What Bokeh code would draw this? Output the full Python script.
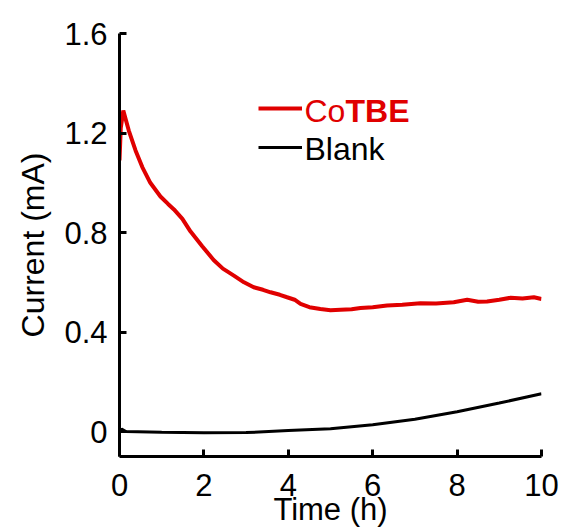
from bokeh.plotting import figure
from bokeh.models import Range1d, FixedTicker, Legend, LegendItem, Label, Title
from bokeh.embed import file_html
from bokeh.resources import INLINE

# ---- data ----
cotbe_t = [0.0, 0.03, 0.09, 0.22, 0.38, 0.54, 0.73, 0.97, 1.15, 1.29, 1.49, 1.68,
           1.96, 2.23, 2.45, 2.71, 2.95, 3.18, 3.4, 3.58, 3.8, 3.97, 4.15, 4.29,
           4.5, 4.76, 5.0, 5.24, 5.5, 5.71, 6.0, 6.34, 6.7, 7.13, 7.5, 7.92,
           8.24, 8.5, 8.71, 9.0, 9.27, 9.55, 9.82, 10.0]
cotbe_i = [1.09, 1.22, 1.29, 1.21, 1.13, 1.063, 1.0, 0.945, 0.915, 0.893, 0.855, 0.805,
           0.745, 0.69, 0.655, 0.627, 0.60, 0.58, 0.57, 0.56, 0.55, 0.54, 0.53, 0.513,
           0.50, 0.493, 0.488, 0.49, 0.492, 0.497, 0.50, 0.507, 0.51, 0.516, 0.515, 0.52,
           0.53, 0.522, 0.523, 0.53, 0.538, 0.535, 0.54, 0.533]

blank_t = [0.0, 0.05, 0.15, 1, 2, 3, 4, 5, 6, 7, 8, 9, 10]
blank_i = [0.0, 0.01, 0.0, -0.003, -0.005, -0.004, 0.004, 0.012, 0.028, 0.05, 0.08, 0.115, 0.152]

x_ticks = [0, 2, 4, 6, 8, 10]
y_ticks = [0, 0.4, 0.8, 1.2, 1.6]
y_tick_labels = ["0", "0.4", "0.8", "1.2", "1.6"]
x_title = "Time (h)"
y_title = "Current (mA)"

RED = "#e00000"
FONT = "Liberation Sans"

p = figure(width=561, height=530, output_backend="svg", toolbar_location=None,
           x_range=Range1d(0, 10), y_range=Range1d(-0.1, 1.6),
           min_border_left=119, min_border_right=20, min_border_top=33, min_border_bottom=74)
p.outline_line_color = None
p.grid.visible = False
p.background_fill_color = "white"

r_red = p.line(cotbe_t, cotbe_i, line_color=RED, line_width=4)
r_blk = p.line(blank_t, blank_i, line_color="black", line_width=3)

for ax in (p.xaxis[0], p.yaxis[0]):
    ax.axis_line_width = 3
    ax.axis_line_color = "black"
    ax.major_tick_line_width = 3
    ax.major_tick_in = 7
    ax.major_tick_out = 0
    ax.minor_tick_line_color = None
    ax.major_label_text_font = FONT
    ax.major_label_text_font_size = "31px"
    ax.major_label_text_color = "black"
    ax.axis_label_text_font = FONT
    ax.axis_label_text_font_size = "31px"
    ax.axis_label_text_font_style = "normal"
    ax.axis_label_text_color = "black"

p.xaxis[0].ticker = FixedTicker(ticks=x_ticks)
p.yaxis[0].ticker = FixedTicker(ticks=y_ticks)
p.yaxis[0].major_label_overrides = {t: s for t, s in zip(y_ticks, y_tick_labels)}
p.xaxis[0].major_label_overrides = {t: str(t) for t in x_ticks}
p.xaxis[0].axis_label = x_title
p.xaxis[0].major_label_standoff = 17
p.xaxis[0].axis_label_standoff = -7
p.yaxis[0].major_label_standoff = 12

# y title as a side title so it can be shifted along the axis
ytitle = Title(text=y_title, align="right", offset=119, standoff=21,
               text_font=FONT, text_font_size="32px", text_font_style="normal",
               text_color="black")
p.add_layout(ytitle, "left")

# legend swatches
legend = Legend(items=[LegendItem(label="", renderers=[r_red]),
                       LegendItem(label="", renderers=[r_blk])],
                location=(139, 291), glyph_width=44, glyph_height=36,
                label_height=36, label_width=0, label_standoff=0, spacing=3,
                padding=0, margin=0, border_line_color=None,
                background_fill_alpha=0, label_text_font_size="32px")
p.add_layout(legend)

# legend texts
p.add_layout(Label(x=4.384, y=1.287, text="Co", text_color=RED, text_font=FONT,
                   text_font_size="32px", text_baseline="middle", text_align="left"))
p.add_layout(Label(x=5.355, y=1.287, text="TBE", text_color=RED, text_font=FONT,
                   text_font_size="32px", text_font_style="bold",
                   text_baseline="middle", text_align="left"))
p.add_layout(Label(x=4.384, y=1.136, text="Blank", text_color="black", text_font=FONT,
                   text_font_size="32px", text_baseline="middle", text_align="left"))

open("out.html", "w").write(file_html(p, INLINE))
